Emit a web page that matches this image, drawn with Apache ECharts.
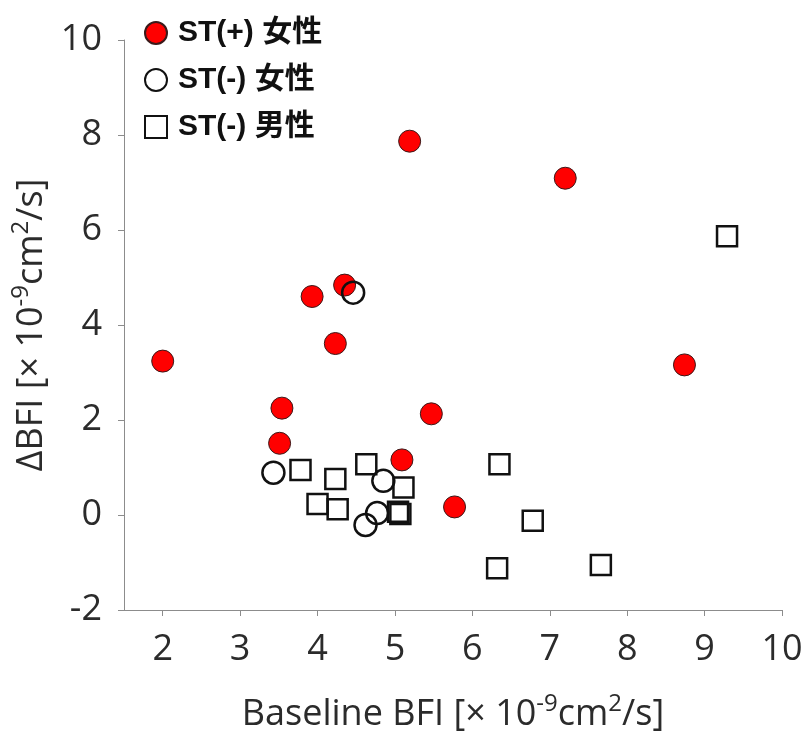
<!DOCTYPE html>
<html>
<head>
<meta charset="utf-8">
<script src="https://cdn.jsdelivr.net/npm/echarts@6/dist/echarts.min.js"></script>
<style>
  html, body { margin: 0; padding: 0; background: #fff; }
  #chart { width: 804px; height: 731px; }
</style>
</head>
<body>
<div id="chart"></div>
<script>
// ST(+) female
const stPosFemale = [
  [2.0, 3.24], [5.19, 7.87], [7.2, 7.09], [8.74, 3.16],
  [3.93, 4.60], [4.35, 4.84], [4.23, 3.61], [3.54, 2.25],
  [3.51, 1.51], [5.47, 2.13], [5.09, 1.16], [5.77, 0.17]
];
// ST(-) female
const stNegFemale = [
  [4.46, 4.68], [3.43, 0.89], [4.85, 0.72], [4.77, 0.04], [4.62, -0.21]
];
// ST(-) male
const stNegMale = [
  [3.78, 0.95], [4.23, 0.76], [4.63, 1.07], [5.11, 0.58],
  [4.0, 0.23], [4.26, 0.12], [5.04, 0.07], [5.07, 0.02],
  [6.35, 1.07], [6.78, -0.12], [6.32, -1.12], [7.66, -1.05],
  [9.29, 5.87]
];
const seriesNames = ['ST(+) 女性', 'ST(-) 女性', 'ST(-) 男性'];
const xTicks = [2, 3, 4, 5, 6, 7, 8, 9, 10];

const font = '"Open Sans", "DejaVu Sans", sans-serif';
const textColor = '#2b2b2b';
const axisColor = '#8c8c8c';

const nameRich = {
  t: { fontFamily: font, fontSize: 36, color: textColor, lineHeight: 46 },
  s: { fontFamily: font, fontSize: 24, color: textColor, lineHeight: 24, verticalAlign: 'top' }
};

const chart = echarts.init(document.getElementById('chart'));

chart.setOption({
  backgroundColor: '#fff',
  animation: false,
  grid: { left: 124, right: 22, top: 40, bottom: 121, outerBoundsMode: 'none', containLabel: false },
  legend: {
    orient: 'vertical',
    left: 139,
    top: 13,
    itemWidth: 22,
    itemHeight: 22,
    itemGap: 17,
    textStyle: {
      fontFamily: '"Liberation Sans", "Noto Sans CJK JP", sans-serif',
      fontWeight: 'bold',
      fontSize: 30,
      lineHeight: 28,
      padding: [0, 0, 0, 6],
      color: '#111'
    },
    data: seriesNames
  },
  xAxis: {
    type: 'value',
    min: 1.5,
    max: 10,
    splitLine: { show: false },
    axisLine: { onZero: false, lineStyle: { color: axisColor, width: 1 } },
    axisTick: { show: true, length: 6, lineStyle: { color: axisColor }, customValues: xTicks },
    axisLabel: {
      customValues: xTicks,
      margin: 22,
      fontFamily: font,
      fontSize: 36,
      color: textColor
    },
    name: '{t|Baseline BFI [× 10}{s|-9}{t|cm}{s|2}{t|/s]}',
    nameLocation: 'middle',
    nameGap: 82,
    nameTextStyle: { rich: nameRich }
  },
  yAxis: {
    type: 'value',
    min: -2,
    max: 10,
    interval: 2,
    splitLine: { show: false },
    axisLine: { show: true, onZero: false, lineStyle: { color: axisColor, width: 1 } },
    axisTick: { show: true, length: 6, lineStyle: { color: axisColor } },
    axisLabel: {
      margin: 22,
      fontFamily: font,
      fontSize: 36,
      color: textColor
    },
    name: '{t|ΔBFI [× 10}{s|-9}{t|cm}{s|2}{t|/s]}',
    nameLocation: 'middle',
    nameRotate: 90,
    nameGap: 68,
    nameTextStyle: { rich: nameRich }
  },
  series: [
    {
      name: seriesNames[0],
      type: 'scatter',
      symbol: 'circle',
      symbolSize: 22,
      itemStyle: { color: '#ff0000', borderColor: '#3a1a1a', borderWidth: 1, opacity: 1 },
      data: stPosFemale
    },
    {
      name: seriesNames[1],
      type: 'scatter',
      symbol: 'circle',
      symbolSize: 22,
      itemStyle: { color: 'rgba(255,255,255,0)', borderColor: '#111', borderWidth: 2.5, opacity: 1 },
      data: stNegFemale
    },
    {
      name: seriesNames[2],
      type: 'scatter',
      symbol: 'rect',
      symbolSize: 20,
      itemStyle: { color: 'rgba(255,255,255,0)', borderColor: '#111', borderWidth: 2.5, opacity: 1 },
      data: stNegMale
    }
  ]
});
</script>
</body>
</html>
